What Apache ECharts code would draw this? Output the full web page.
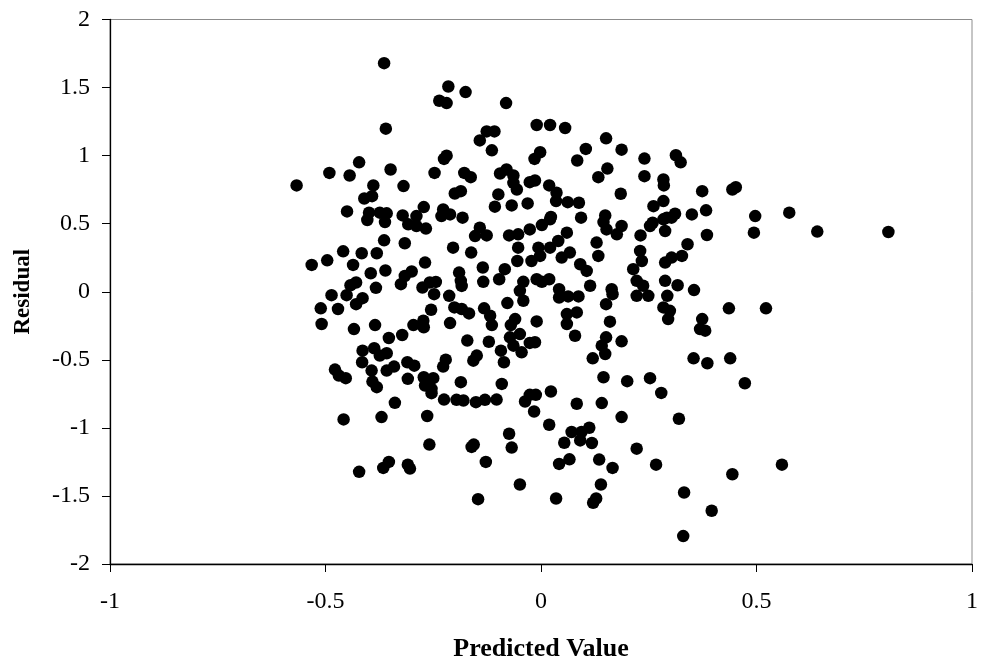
<!DOCTYPE html>
<html>
<head>
<meta charset="utf-8">
<script src="https://cdn.jsdelivr.net/npm/echarts@6/dist/echarts.min.js"></script>
<style>
html,body{margin:0;padding:0;background:#fff;}
#chart{width:981px;height:667px;}
</style>
</head>
<body>
<div id="chart"></div>
<script>
const xTitle = 'Predicted Value';
const yTitle = 'Residual';
const predicted = [
-0.364,-0.215,-0.175,-0.236,-0.219,-0.360,-0.219,-0.225,-0.422,-0.491,
-0.444,-0.349,-0.247,-0.178,-0.163,-0.567,-0.389,-0.319,-0.410,-0.392,
-0.200,-0.186,-0.450,-0.399,-0.403,-0.374,-0.358,-0.362,-0.321,-0.272,
-0.289,-0.308,-0.227,-0.211,-0.182,-0.231,-0.142,-0.289,-0.267,-0.153,
-0.364,-0.316,-0.204,-0.162,-0.459,-0.416,-0.381,-0.532,-0.496,-0.436,
-0.269,-0.361,-0.395,-0.300,-0.316,-0.325,-0.190,-0.186,-0.184,-0.135,
-0.429,-0.442,-0.383,-0.486,-0.451,-0.414,-0.429,-0.511,-0.471,-0.509,
-0.434,-0.385,-0.275,-0.258,-0.244,-0.248,-0.213,-0.255,-0.201,-0.184,
-0.167,-0.211,-0.296,-0.273,-0.272,-0.322,-0.353,-0.171,-0.414,-0.387,
-0.374,-0.358,-0.415,-0.478,-0.469,-0.453,-0.393,-0.358,-0.341,-0.310,
-0.294,-0.309,-0.391,-0.381,-0.272,-0.250,-0.269,-0.254,-0.221,-0.227,
-0.157,-0.149,-0.186,-0.225,-0.196,-0.180,-0.339,-0.254,-0.458,-0.370,
-0.264,-0.151,-0.259,-0.161,-0.156,-0.422,-0.366,-0.353,-0.309,-0.304,
-0.146,-0.130,-0.103,-0.037,-0.026,-0.012,-0.016,0.023,0.083,0.141,
0.279,0.187,0.320,0.019,-0.074,-0.068,-0.128,0.071,0.094,0.112,
0.054,0.091,0.118,0.222,0.135,0.166,0.066,0.042,0.267,-0.049,
0.139,0.035,0.121,0.128,0.332,0.330,0.444,0.559,0.396,
0.385,0.494,0.641,0.806,0.340,0.327,0.303,0.317,0.355,0.436,
0.522,0.374,0.369,0.381,0.354,0.386,0.439,0.473,0.313,0.324,
0.374,0.444,0.452,0.311,0.303,0.350,0.383,0.497,0.576,-0.081,
-0.010,0.021,0.056,-0.126,-0.108,-0.114,0.151,0.187,0.104,0.084,
-0.002,-0.015,0.240,0.154,0.133,0.240,0.284,0.285,-0.095,-0.080,
-0.064,-0.064,-0.056,-0.026,-0.014,0.019,0.036,0.035,0.062,0.088,
-0.099,-0.107,-0.068,-0.031,0.023,0.093,0.149,0.145,0.185,0.261,
0.284,0.292,0.259,-0.142,-0.126,-0.074,-0.053,-0.026,0.002,0.021,
-0.053,-0.006,0.021,0.060,0.040,0.152,0.176,0.187,0.129,0.133,
0.231,0.253,0.284,0.288,-0.055,-0.022,-0.002,0.048,0.067,0.091,
0.106,0.230,0.234,0.214,0.288,-0.084,-0.097,-0.134,-0.041,-0.049,
-0.010,0.019,0.002,-0.041,0.042,0.042,0.063,0.087,0.114,0.164,
0.166,0.151,0.222,0.237,0.222,0.249,0.288,0.293,0.284,0.299,
0.295,-0.078,-0.132,-0.118,-0.114,-0.060,-0.070,-0.010,0.060,0.083,
0.060,0.160,-0.049,-0.072,-0.064,-0.045,-0.026,-0.014,-0.121,-0.093,
-0.086,0.079,0.151,0.141,0.149,0.120,0.187,0.145,0.200,0.253,
-0.091
];
const residual = [
1.679,1.508,1.467,1.403,1.386,1.198,1.000,0.976,0.951,0.873,
0.854,0.898,0.873,0.873,0.842,0.781,0.781,0.776,0.685,0.702,
0.722,0.739,0.590,0.581,0.527,0.581,0.576,0.512,0.561,0.622,
0.556,0.495,0.605,0.568,0.544,0.556,1.112,0.483,0.464,0.409,
0.378,0.356,0.324,0.288,0.297,0.283,0.283,0.197,0.231,0.197,
0.214,0.156,0.136,0.149,0.116,0.056,0.141,0.080,0.043,0.178,
0.068,0.048,0.029,-0.025,-0.025,-0.047,-0.091,-0.122,-0.127,-0.237,
-0.274,-0.245,0.031,0.068,0.072,-0.018,-0.030,-0.132,-0.115,-0.127,
-0.159,-0.230,-0.245,-0.213,-0.261,-0.318,-0.340,-0.359,-0.433,-0.415,
-0.469,-0.452,-0.518,-0.572,-0.616,-0.635,-0.579,-0.579,-0.550,-0.518,
-0.543,-0.640,-0.660,-0.701,-0.628,-0.635,-0.689,-0.713,-0.499,-0.550,
-0.506,-0.469,-0.664,-0.792,-0.794,-0.799,-0.816,-0.745,-0.938,-0.921,
-0.913,-0.811,-1.123,-1.140,-1.123,-1.323,-1.294,-1.250,-1.270,-1.299,
-1.524,-0.794,-0.792,-0.806,-0.757,-0.757,-0.880,-0.733,-0.823,-0.818,
-0.743,-0.921,-0.933,-0.977,-1.043,-1.145,-1.250,-1.030,-1.030,-0.999,
-1.109,-1.092,-1.111,-1.153,-1.233,-1.294,-1.231,-1.265,-1.270,-1.416,
-1.416,-1.519,-1.550,-1.519,-1.475,-1.795,-1.341,-1.270,-1.609,
0.417,0.434,0.442,0.439,0.349,0.263,0.251,0.048,0.012,-0.122,
-0.122,-0.201,-0.274,-0.286,-0.489,-0.525,-0.489,-0.672,1.003,0.951,
0.739,0.751,0.768,0.573,0.544,0.568,0.598,0.556,0.581,1.386,
1.225,1.225,1.203,1.178,1.178,1.039,1.127,1.044,1.049,0.964,
1.025,0.976,0.978,0.905,0.842,0.849,0.825,0.781,0.869,0.898,
0.854,0.800,0.751,0.805,0.817,0.781,0.727,0.666,0.658,0.654,
0.715,0.625,0.634,0.649,0.549,0.544,0.561,0.512,0.720,0.629,
0.666,0.544,0.507,0.471,0.414,0.414,0.422,0.458,0.490,0.532,
0.324,0.324,0.324,0.434,0.373,0.458,0.422,0.483,0.361,0.263,
0.414,0.483,0.532,0.446,0.226,0.226,0.263,0.251,0.288,0.202,
0.153,0.300,0.226,0.166,0.214,0.166,0.092,0.073,0.073,0.007,
0.092,0.092,0.073,-0.066,0.019,-0.042,-0.034,-0.034,0.044,0.019,
-0.018,-0.091,0.080,0.044,-0.030,-0.030,0.080,-0.030,-0.115,-0.140,
-0.201,-0.083,-0.122,-0.176,-0.245,-0.201,-0.245,-0.218,-0.164,-0.152,
-0.237,-0.220,-0.311,-0.335,-0.396,-0.445,-0.376,-0.371,-0.367,-0.433,
-0.518,-0.323,-0.335,-0.396,-0.457,-0.489,-0.364,-0.628,-0.657,-0.635,
-0.677
];
const xMin = -1, xMax = 1, xStep = 0.5;
const yMin = -2, yMax = 2, yStep = 0.5;

const points = predicted.map((x, i) => [x, residual[i]]);
const serif = '"Liberation Serif","Times New Roman",serif';

const chart = echarts.init(document.getElementById('chart'), null, {renderer: 'canvas'});
chart.setOption({
  animation: false,
  backgroundColor: '#ffffff',
  grid: {left: 110, right: 9, top: 19.5, bottom: 101, show: true, borderColor: '#8c8c8c', borderWidth: 1, backgroundColor: 'transparent'},
  xAxis: {
    type: 'value', min: xMin, max: xMax, interval: xStep,
    name: xTitle, nameLocation: 'middle', nameGap: 72,
    nameTextStyle: {fontFamily: serif, fontWeight: 'bold', fontSize: 26, color: '#000'},
    axisLine: {onZero: false, lineStyle: {color: '#000', width: 1.3}},
    axisTick: {show: true, inside: false, length: 8, lineStyle: {color: '#000'}},
    axisLabel: {fontFamily: serif, fontSize: 24, color: '#000', margin: 26},
    splitLine: {show: false}
  },
  yAxis: {
    type: 'value', min: yMin, max: yMax, interval: yStep,
    name: yTitle, nameLocation: 'middle', nameGap: 75, nameRotate: 90,
    nameTextStyle: {fontFamily: serif, fontWeight: 'bold', fontSize: 23, color: '#000'},
    axisLine: {onZero: false, lineStyle: {color: '#000', width: 1.3}},
    axisTick: {show: true, inside: false, length: 8, lineStyle: {color: '#000'}},
    axisLabel: {fontFamily: serif, fontSize: 24, color: '#000', margin: 20},
    splitLine: {show: false}
  },
  series: [{
    type: 'scatter',
    data: points,
    symbol: 'circle',
    symbolSize: 12.5,
    itemStyle: {color: '#000', opacity: 1},
    emphasis: {disabled: true}
  }]
});
</script>
</body>
</html>
